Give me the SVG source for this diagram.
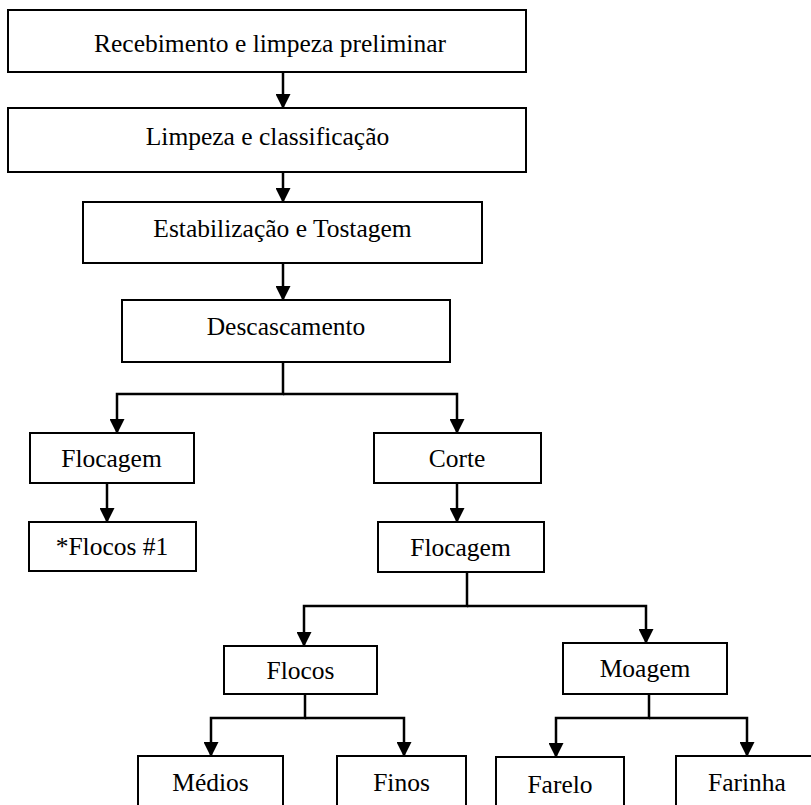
<svg xmlns="http://www.w3.org/2000/svg" width="811" height="805" viewBox="0 0 811 805">
<style>
.box{fill:#fff;stroke:#000;stroke-width:2}
.con{fill:none;stroke:#000;stroke-width:2.5;stroke-linejoin:miter}
</style>
<defs>
<marker id="ah" markerUnits="userSpaceOnUse" markerWidth="15" markerHeight="15" refX="14" refY="7.5" orient="auto" viewBox="0 0 15 15">
<path d="M0,0 L15,7.5 L0,15 z" fill="#000"/>
</marker>
</defs>
<rect width="811" height="805" fill="#fff"/>
<g id="connectors">
<path class="con" d="M283,72 V108" marker-end="url(#ah)"/>
<path class="con" d="M283,172 V202" marker-end="url(#ah)"/>
<path class="con" d="M283,263 V300" marker-end="url(#ah)"/>
<path class="con" d="M283,362 V394 H117 V433" marker-end="url(#ah)"/>
<path class="con" d="M283,394 H457 V433" marker-end="url(#ah)"/>
<path class="con" d="M107,483 V522" marker-end="url(#ah)"/>
<path class="con" d="M457,483 V522" marker-end="url(#ah)"/>
<path class="con" d="M467,572 V606 H304 V646" marker-end="url(#ah)"/>
<path class="con" d="M467,606 H646 V643" marker-end="url(#ah)"/>
<path class="con" d="M305,694 V718 H211 V756" marker-end="url(#ah)"/>
<path class="con" d="M305,718 H404 V756" marker-end="url(#ah)"/>
<path class="con" d="M649,694 V718 H556 V757" marker-end="url(#ah)"/>
<path class="con" d="M649,718 H747 V756" marker-end="url(#ah)"/>
</g>
<g font-family="Liberation Serif, Times New Roman, DejaVu Serif, serif" font-size="25.5" text-anchor="middle" fill="#000">
<g id="n1"><rect class="box" x="8" y="10" width="518" height="62"/><text x="270" y="52">Recebimento e limpeza preliminar</text></g>
<g id="n2"><rect class="box" x="8" y="108" width="518" height="64"/><text x="267.5" y="145">Limpeza e classificação</text></g>
<g id="n3"><rect class="box" x="83" y="202" width="399" height="61"/><text x="282.5" y="237">Estabilização e Tostagem</text></g>
<g id="n4"><rect class="box" x="122" y="300" width="328" height="62"/><text x="286" y="335">Descascamento</text></g>
<g id="n5"><rect class="box" x="30" y="433" width="164" height="50"/><text x="111.5" y="467">Flocagem</text></g>
<g id="n6"><rect class="box" x="29" y="522" width="167" height="49"/><text x="112" y="555">*Flocos #1</text></g>
<g id="n7"><rect class="box" x="374" y="433" width="167" height="50"/><text x="457" y="467">Corte</text></g>
<g id="n8"><rect class="box" x="378" y="522" width="166" height="50"/><text x="460.5" y="556">Flocagem</text></g>
<g id="n9"><rect class="box" x="224" y="646" width="153" height="48"/><text x="300.5" y="679">Flocos</text></g>
<g id="n10"><rect class="box" x="563" y="643" width="164" height="51"/><text x="645" y="677">Moagem</text></g>
<g id="n11"><rect class="box" x="138" y="756" width="145" height="60"/><text x="210.5" y="791">Médios</text></g>
<g id="n12"><rect class="box" x="337" y="756" width="129" height="60"/><text x="401.5" y="791">Finos</text></g>
<g id="n13"><rect class="box" x="496" y="757" width="128" height="60"/><text x="560" y="793">Farelo</text></g>
<g id="n14"><rect class="box" x="676" y="756" width="142" height="60"/><text x="747" y="791">Farinha</text></g>
</g>
</svg>
